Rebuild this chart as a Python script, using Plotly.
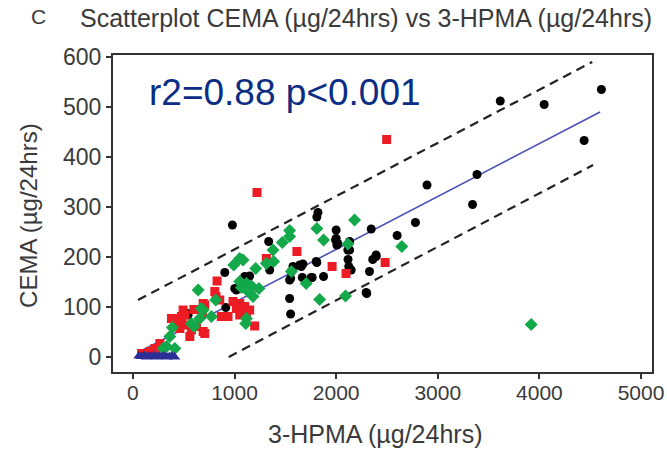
import plotly.graph_objects as go

# ---- data ----
black_x = [4610, 3615, 4047, 4440, 3386, 3342, 2894, 2780, 2345, 2600, 2393, 2360, 2328, 2301,
           2132, 2124, 2117, 2000, 2007, 1994, 1821, 1810, 1810, 1876, 1764, 1667, 1575, 1657,
           1552, 1542, 1552, 1336, 1346, 1100, 1149, 1002, 979, 904, 1018, 914, 887, 536, 445,
           543, 2132, 1559, 1640, 1673, 1755, 1804, 1542, 2000, 2016, 2115, 2148, 2295, 2393]
black_y = [535, 512, 505, 433, 365, 305, 344, 269, 256, 243, 204, 195, 171, 127,
           231, 181, 195, 254, 224, 234, 289, 280, 189, 161, 159, 159, 181, 181,
           157, 117, 86, 231, 174, 161, 162, 137, 264, 169, 134, 99, 81, 87, 61,
           84, 214, 171, 184, 186, 159, 191, 154, 237, 227, 214, 174, 129, 201]

red_x = [1221, 2497, 2482, 2097, 1960, 1614, 1313, 828, 806, 818, 870, 936, 707, 691, 684,
         560, 576, 494, 511, 527, 478, 379, 429, 462, 265, 216, 167, 85, 985, 1051, 1100,
         1149, 1018, 1051, 1117, 1198, 445, 625, 707, 691, 600, 855]
red_y = [329, 435, 189, 167, 181, 211, 197, 152, 131, 121, 81, 81, 47, 107, 87,
         41, 54, 94, 84, 64, 81, 77, 74, 57, 27, 17, 11, 7, 111, 107, 101,
         94, 97, 84, 84, 62, 77, 61, 104, 51, 95, 114]

green_x = [3919, 2646, 2181, 1810, 1542, 1542, 1470, 1379, 1876, 2115, 1705, 1837, 2092, 1240,
           1208, 1051, 1084, 992, 1385, 1051, 1117, 1166, 1067, 1133, 1182, 1117, 1110, 815,
           772, 642, 672, 658, 602, 389, 363, 413, 331, 297, 576, 691, 1313, 1559]
green_y = [65, 221, 274, 257, 253, 241, 229, 214, 234, 226, 147, 115, 122, 137,
           177, 197, 194, 184, 191, 151, 147, 142, 139, 131, 121, 77, 67, 114,
           81, 134, 97, 77, 61, 59, 41, 17, 21, 17, 67, 94, 187, 171]

blue_x = [60, 85, 110, 135, 160, 185, 210, 235, 260, 285, 310, 335, 360, 385, 410]
blue_y = [2, 1, 3, 0, 2, 1, 3, 0, 2, 1, 2, 0, 1, 2, 0]

fit_x = [60, 4597]
fit_y = [10, 490]
upper_x = [50, 4520]
upper_y = [114, 590]
lower_x = [943, 4528]
lower_y = [0, 384]

x_ticks = [0, 1000, 2000, 3000, 4000, 5000]
y_ticks = [0, 100, 200, 300, 400, 500, 600]

title_text = "Scatterplot CEMA (µg/24hrs) vs 3-HPMA (µg/24hrs)"
stat_text = "r2=0.88 p<0.001"
x_title = "3-HPMA (µg/24hrs)"
y_title = "CEMA (µg/24hrs)"

FONT = "Liberation Sans, Arial, sans-serif"
TXT = "#3a3a3a"

fig = go.Figure()
fig.add_trace(go.Scatter(x=upper_x, y=upper_y, mode="lines",
                         line=dict(color="#222222", width=2.2, dash="9px,6px"), hoverinfo="skip"))
fig.add_trace(go.Scatter(x=lower_x, y=lower_y, mode="lines",
                         line=dict(color="#222222", width=2.2, dash="9px,6px"), hoverinfo="skip"))
fig.add_trace(go.Scatter(x=fit_x, y=fit_y, mode="lines",
                         line=dict(color="#4b50b8", width=1.6), hoverinfo="skip"))
fig.add_trace(go.Scatter(x=black_x, y=black_y, mode="markers",
                         marker=dict(symbol="circle", size=9, color="#000000")))
fig.add_trace(go.Scatter(x=red_x, y=red_y, mode="markers",
                         marker=dict(symbol="square", size=9, color="#ec1c24")))
fig.add_trace(go.Scatter(x=green_x, y=green_y, mode="markers",
                         marker=dict(symbol="diamond", size=10, color="#13a84a")))
fig.add_trace(go.Scatter(x=blue_x, y=blue_y, mode="markers",
                         marker=dict(symbol="triangle-up", size=10, color="#2b2e96")))

axis_common = dict(showline=True, linecolor="#333333", linewidth=2, mirror=True,
                   ticks="outside", ticklen=5, tickwidth=2, tickcolor="#333333",
                   showgrid=False, zeroline=False, automargin=False)

fig.update_layout(
    width=667, height=450,
    margin=dict(l=113, r=15, t=55, b=78),
    paper_bgcolor="white", plot_bgcolor="white",
    showlegend=False,
    xaxis=dict(range=[-196, 5108], tickvals=x_ticks, ticklabelstandoff=-4,
               tickfont=dict(family=FONT, size=21, color=TXT), **axis_common),
    yaxis=dict(range=[-30, 604], tickvals=y_ticks,
               tickfont=dict(family=FONT, size=23, color=TXT), **axis_common),
    annotations=[
        dict(text=title_text, xref="paper", yref="paper", x=-0.065, y=1.0, yshift=37,
             xanchor="left", yanchor="middle", showarrow=False,
             font=dict(family=FONT, size=25, color=TXT)),
        dict(text="C", xref="paper", yref="paper", x=-0.156, y=1.0, yshift=39,
             xanchor="left", yanchor="middle", showarrow=False,
             font=dict(family=FONT, size=21, color=TXT)),
        dict(text=stat_text, xref="paper", yref="paper", x=0.063, y=0.883,
             xanchor="left", yanchor="middle", showarrow=False,
             font=dict(family=FONT, size=37, color="#0b2d84")),
        dict(text=x_title, xref="paper", yref="paper", x=0.486, y=-0.1956,
             xanchor="center", yanchor="middle", showarrow=False,
             font=dict(family=FONT, size=25, color=TXT)),
        dict(text=y_title, xref="paper", yref="paper", x=-0.158, y=0.495, textangle=-90,
             xanchor="center", yanchor="middle", showarrow=False,
             font=dict(family=FONT, size=24, color=TXT)),
    ],
)

fig.write_html("out.html", config={"displayModeBar": False},
               post_script="document.body.style.margin='0px';")
